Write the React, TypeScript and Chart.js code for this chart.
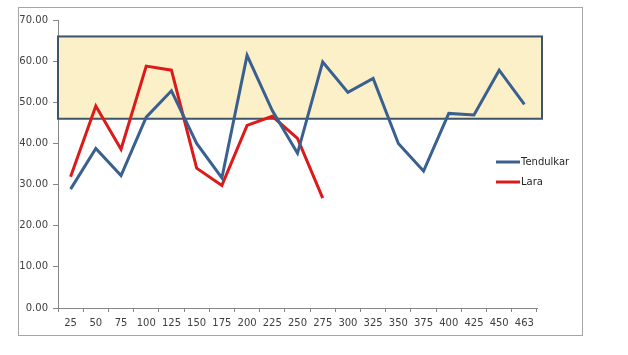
import React, { useEffect, useRef } from "react";
import { Chart, registerables } from "chart.js";

Chart.register(...registerables);

const categories = ["25","50","75","100","125","150","175","200","225","250","275","300","325","350","375","400","425","450","463"];
const tendulkar = [28.9, 38.8, 32.2, 46.4, 52.8, 40.0, 31.6, 61.4, 48.0, 37.6, 59.8, 52.4, 55.8, 40.0, 33.3, 47.3, 46.9, 57.8, 49.5];
const lara = [31.9, 49.1, 38.6, 58.8, 57.8, 34.0, 29.8, 44.4, 46.6, 41.2, 26.7, null, null, null, null, null, null, null, null];
const bandRange = [46, 66];
const yTicks = [0, 10, 20, 30, 40, 50, 60, 70];

const FONT = "'DejaVu Sans', sans-serif";

const decorPlugin = {
  id: "decor",
  beforeDatasetsDraw(chart: any) {
    const { ctx, chartArea, scales } = chart;
    const y = scales.y;
    const top = y.getPixelForValue(bandRange[1]);
    const bot = y.getPixelForValue(bandRange[0]);
    const left = chartArea.left;
    const right = chartArea.right + 5;
    ctx.save();
    ctx.fillStyle = "#FCF0C8";
    ctx.fillRect(left, top, right - left, bot - top);
    ctx.strokeStyle = "#3E5468";
    ctx.lineWidth = 2;
    ctx.strokeRect(left, top, right - left, bot - top);
    ctx.restore();
  },
  afterDraw(chart: any) {
    const { ctx, chartArea } = chart;
    ctx.save();
    // outer chart border
    ctx.strokeStyle = "#A6A6A6";
    ctx.lineWidth = 1;
    ctx.strokeRect(18.5, 7.5, 564, 328);
    // legend
    const lx = chartArea.right - 41;
    const ys = [162, 182];
    chart.data.datasets.forEach((ds: any, i: number) => {
      ctx.strokeStyle = ds.borderColor;
      ctx.lineWidth = 3;
      ctx.beginPath();
      ctx.moveTo(lx, ys[i]);
      ctx.lineTo(lx + 24, ys[i]);
      ctx.stroke();
      ctx.fillStyle = "#262626";
      ctx.font = `10px ${FONT}`;
      ctx.textBaseline = "middle";
      ctx.textAlign = "left";
      ctx.fillText(ds.label, lx + 25, ys[i]);
    });
    ctx.restore();
  },
};

export default function App() {
  const ref = useRef<HTMLCanvasElement>(null);
  useEffect(() => {
    const chart = new Chart(ref.current!, {
      type: "line",
      data: {
        labels: categories,
        datasets: [
          { label: "Tendulkar", data: tendulkar, borderColor: "#3A6090", borderWidth: 3, pointRadius: 0, tension: 0, spanGaps: false },
          { label: "Lara", data: lara as any, borderColor: "#DC1A1A", borderWidth: 3, pointRadius: 0, tension: 0, spanGaps: false },
        ],
      },
      options: {
        animation: false,
        responsive: false,
        maintainAspectRatio: false,
        layout: { padding: { left: 0, top: 20, right: 91, bottom: 0 } },
        plugins: { legend: { display: false }, tooltip: { enabled: false } },
        scales: {
          x: {
            type: "category",
            offset: true,
            grid: { display: true, drawOnChartArea: false, drawTicks: true, tickLength: 4, offset: true, color: "#868686" },
            border: { color: "#868686", width: 1 },
            ticks: { color: "#404040", font: { family: FONT, size: 10 }, padding: 5, maxRotation: 0, autoSkip: false },
            afterFit: (s: any) => { s.height = 47; },
          },
          y: {
            min: 0,
            max: 70,
            afterBuildTicks: (s: any) => { s.ticks = yTicks.map((v) => ({ value: v })); },
            grid: { display: true, drawOnChartArea: false, drawTicks: true, tickLength: 5, color: "#868686" },
            border: { color: "#868686", width: 1 },
            ticks: {
              color: "#404040",
              font: { family: FONT, size: 10 },
              padding: 5,
              callback: (v: any) => Number(v).toFixed(2),
            },
            afterFit: (s: any) => { s.width = 58; },
          },
        },
      },
      plugins: [decorPlugin],
    });
    return () => chart.destroy();
  }, []);
  return (
    <div style={{ position: "fixed", left: 0, top: 0, width: 628, height: 355, background: "#fff" }}>
      <canvas ref={ref} width={628} height={355} style={{ display: "block" }} />
    </div>
  );
}
